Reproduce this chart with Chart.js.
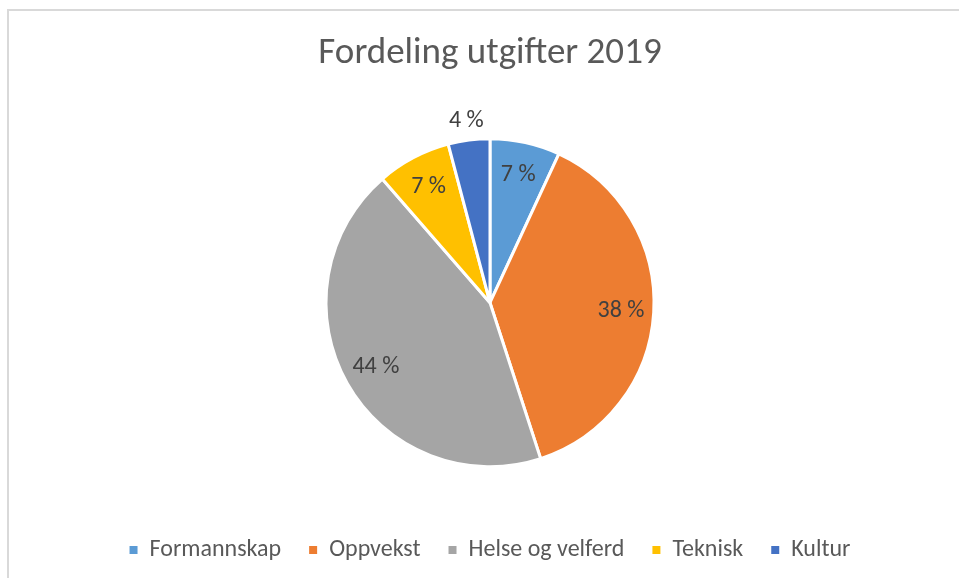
<!DOCTYPE html>
<html>
<head>
<meta charset="utf-8">
<script src="https://cdn.jsdelivr.net/npm/chart.js@4/dist/chart.umd.min.js"></script>
<style>
  html, body { margin: 0; padding: 0; background: #fff; overflow: hidden; }
  #frame { position: absolute; left: 7px; top: 9px; width: 1000px; height: 1000px; border: 2px solid #d9d9d9; }
  #wrap { position: absolute; left: 0; top: 0; width: 959px; height: 578px; }
</style>
</head>
<body>
<div id="frame"></div>
<div id="wrap"><canvas id="pie" width="959" height="578"></canvas></div>
<script>
// Kategorier og andeler (prosent) lest av figuren
const categories = ['Formannskap', 'Oppvekst', 'Helse og velferd', 'Teknisk', 'Kultur'];
const values = [6.9, 38.1, 43.6, 7.3, 4.1];
const colors = ['#5B9BD5', '#ED7D31', '#A5A5A5', '#FFC000', '#4472C4'];

const fontFam = "Carlito, 'Open Sans', 'Noto Sans', sans-serif";

// Tegner prosentetiketter, små sektorer får etiketten utenfor
const pctLabels = {
    id: 'pctLabels',
    afterDatasetsDraw(chart) {
        const ctx = chart.ctx;
        const meta = chart.getDatasetMeta(0);
        const total = values.reduce((a, b) => a + b, 0);
        ctx.save();
        ctx.font = '24px ' + fontFam;
        ctx.fillStyle = '#404040';
        ctx.textAlign = 'center';
        ctx.textBaseline = 'middle';
        meta.data.forEach((arc, i) => {
            const share = values[i] / total;
            const mid = (arc.startAngle + arc.endAngle) / 2;
            const r = arc.outerRadius * (share < 0.05 ? 1.12 : 0.8);
            const x = arc.x + Math.cos(mid) * r;
            const y = arc.y + Math.sin(mid) * r;
            ctx.fillText(Math.round(share * 100) + ' %', x, y);
        });
        ctx.restore();
    }
};

const defaultLabels = Chart.controllers.pie.overrides.plugins.legend.labels.generateLabels;

new Chart(document.getElementById('pie'), {
    type: 'pie',
    data: {
        labels: categories,
        datasets: [{
            data: values,
            backgroundColor: colors,
            borderColor: '#ffffff',
            borderWidth: 3,
            radius: 164
        }]
    },
    options: {
        responsive: false,
        animation: false,
        layout: { padding: { left: 21, top: 0, bottom: 6 } },
        plugins: {
            title: {
                display: true,
                text: 'Fordeling utgifter 2019',
                color: '#595959',
                font: { size: 37, family: fontFam, weight: 'normal' },
                padding: { top: 32, bottom: 19 }
            },
            legend: {
                position: 'bottom',
                labels: {
                    color: '#595959',
                    boxWidth: 8,
                    boxHeight: 8,
                    padding: 28,
                    font: { size: 24, family: fontFam },
                    // ingen hvit kant rundt fargeboksene
                    generateLabels: function(chart) {
                        return defaultLabels(chart).map(item => {
                            item.lineWidth = 0;
                            item.strokeStyle = item.fillStyle;
                            return item;
                        });
                    }
                }
            },
            tooltip: { enabled: false }
        }
    },
    plugins: [pctLabels]
});
</script>
</body>
</html>
